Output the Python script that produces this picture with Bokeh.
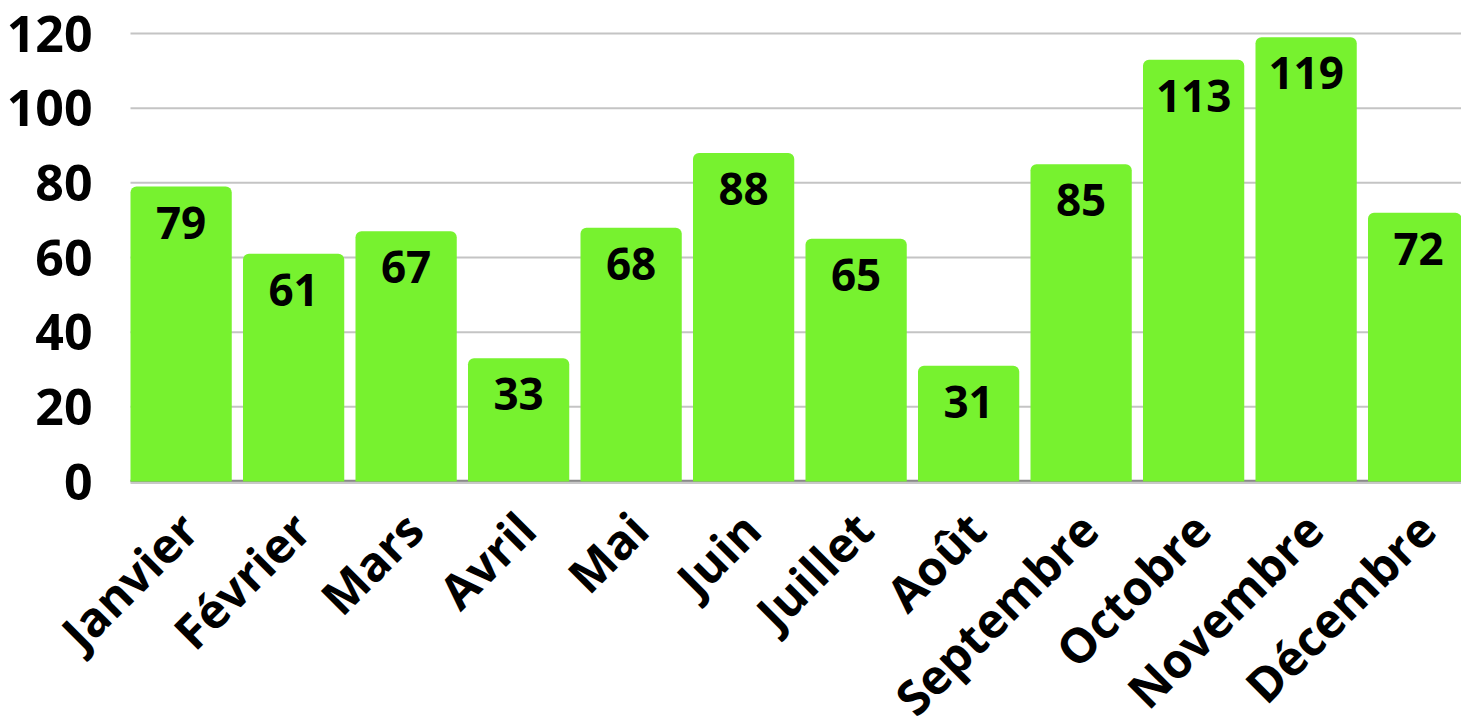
import math
from bokeh.plotting import figure
from bokeh.models import ColumnDataSource, Range1d, LabelSet
from bokeh.core.properties import value
from bokeh.embed import file_html
from bokeh.resources import INLINE

months = ["Janvier", "Février", "Mars", "Avril", "Mai", "Juin", "Juillet",
          "Août", "Septembre", "Octobre", "Novembre", "Décembre"]
values = [79, 61, 67, 33, 68, 88, 65, 31, 85, 113, 119, 72]
y_ticks = [0, 20, 40, 60, 80, 100, 120]

W, H = 1461, 724
# layout of the plotting area in pixels (frame covers the whole picture)
LEFT, TOP, ZERO = 130, 33, 481
SLOT = 112.5
px_per_unit = (ZERO - TOP) / 120
x_lo, x_hi = -LEFT / SLOT, (W - LEFT) / SLOT
y_hi = 120 + TOP / px_per_unit
y_lo = -(H - ZERO) / px_per_unit

BAR_W = 0.9
xs = [i + BAR_W / 2 for i in range(len(months))]
tick_xs = [i + 0.5 for i in range(len(months))]
src = ColumnDataSource(dict(x=xs, top=values, label=[str(v) for v in values]))
msrc = ColumnDataSource(dict(x=tick_xs, y=[0] * len(months), name=months))
ysrc = ColumnDataSource(dict(x=[0] * len(y_ticks), y=y_ticks,
                             label=[str(t) for t in y_ticks],
                             x1=[x_hi] * len(y_ticks)))

p = figure(width=W, height=H, output_backend="svg", toolbar_location=None,
           x_range=Range1d(x_lo, x_hi), y_range=Range1d(y_lo, y_hi),
           min_border_left=0, min_border_right=0, min_border_top=0,
           min_border_bottom=0)
p.outline_line_color = None
p.background_fill_color = "white"
p.xaxis.visible = False
p.yaxis.visible = False
p.xgrid.visible = False
p.ygrid.visible = False

# horizontal grid lines
p.segment(x0="x", y0="y", x1="x1", y1="y", source=ysrc,
          line_color="#C4C4C4", line_width=2)
# axis base line: light line under the bars, darker marks in the gaps
p.segment(x0=[0], y0=[-0.4], x1=[x_hi], y1=[-0.4], line_color="#C8C8C8",
          line_width=2)
p.segment(x0=[0], y0=[0.2], x1=[x_hi], y1=[0.2], line_color="#8A8A8A",
          line_width=2)

p.vbar(x="x", top="top", width=BAR_W, bottom=0, source=src,
       fill_color="#77F22F", line_color=None,
       border_radius=(6, 6, 0, 0))

labels = LabelSet(x="x", y="top", text="label", source=src, y_offset=-36,
                  text_align="center", text_baseline="middle",
                  text_font=value("Open Sans"), text_font_style="bold",
                  text_font_size="44px", text_color="black")
p.add_layout(labels)

ylabels = LabelSet(x="x", y="y", text="label", source=ysrc, x_offset=-38,
                   text_align="right", text_baseline="middle",
                   text_font=value("Open Sans"), text_font_style="bold",
                   text_font_size="50px", text_color="black")
p.add_layout(ylabels)

mlabels = LabelSet(x="x", y="y", text="name", source=msrc,
                   x_offset=2, y_offset=-39, angle=math.pi / 4,
                   text_align="right", text_baseline="middle",
                   text_font=value("Open Sans"), text_font_style="bold",
                   text_font_size="48px", text_color="black")
p.add_layout(mlabels)

open("out.html", "w").write(file_html(p, INLINE))
